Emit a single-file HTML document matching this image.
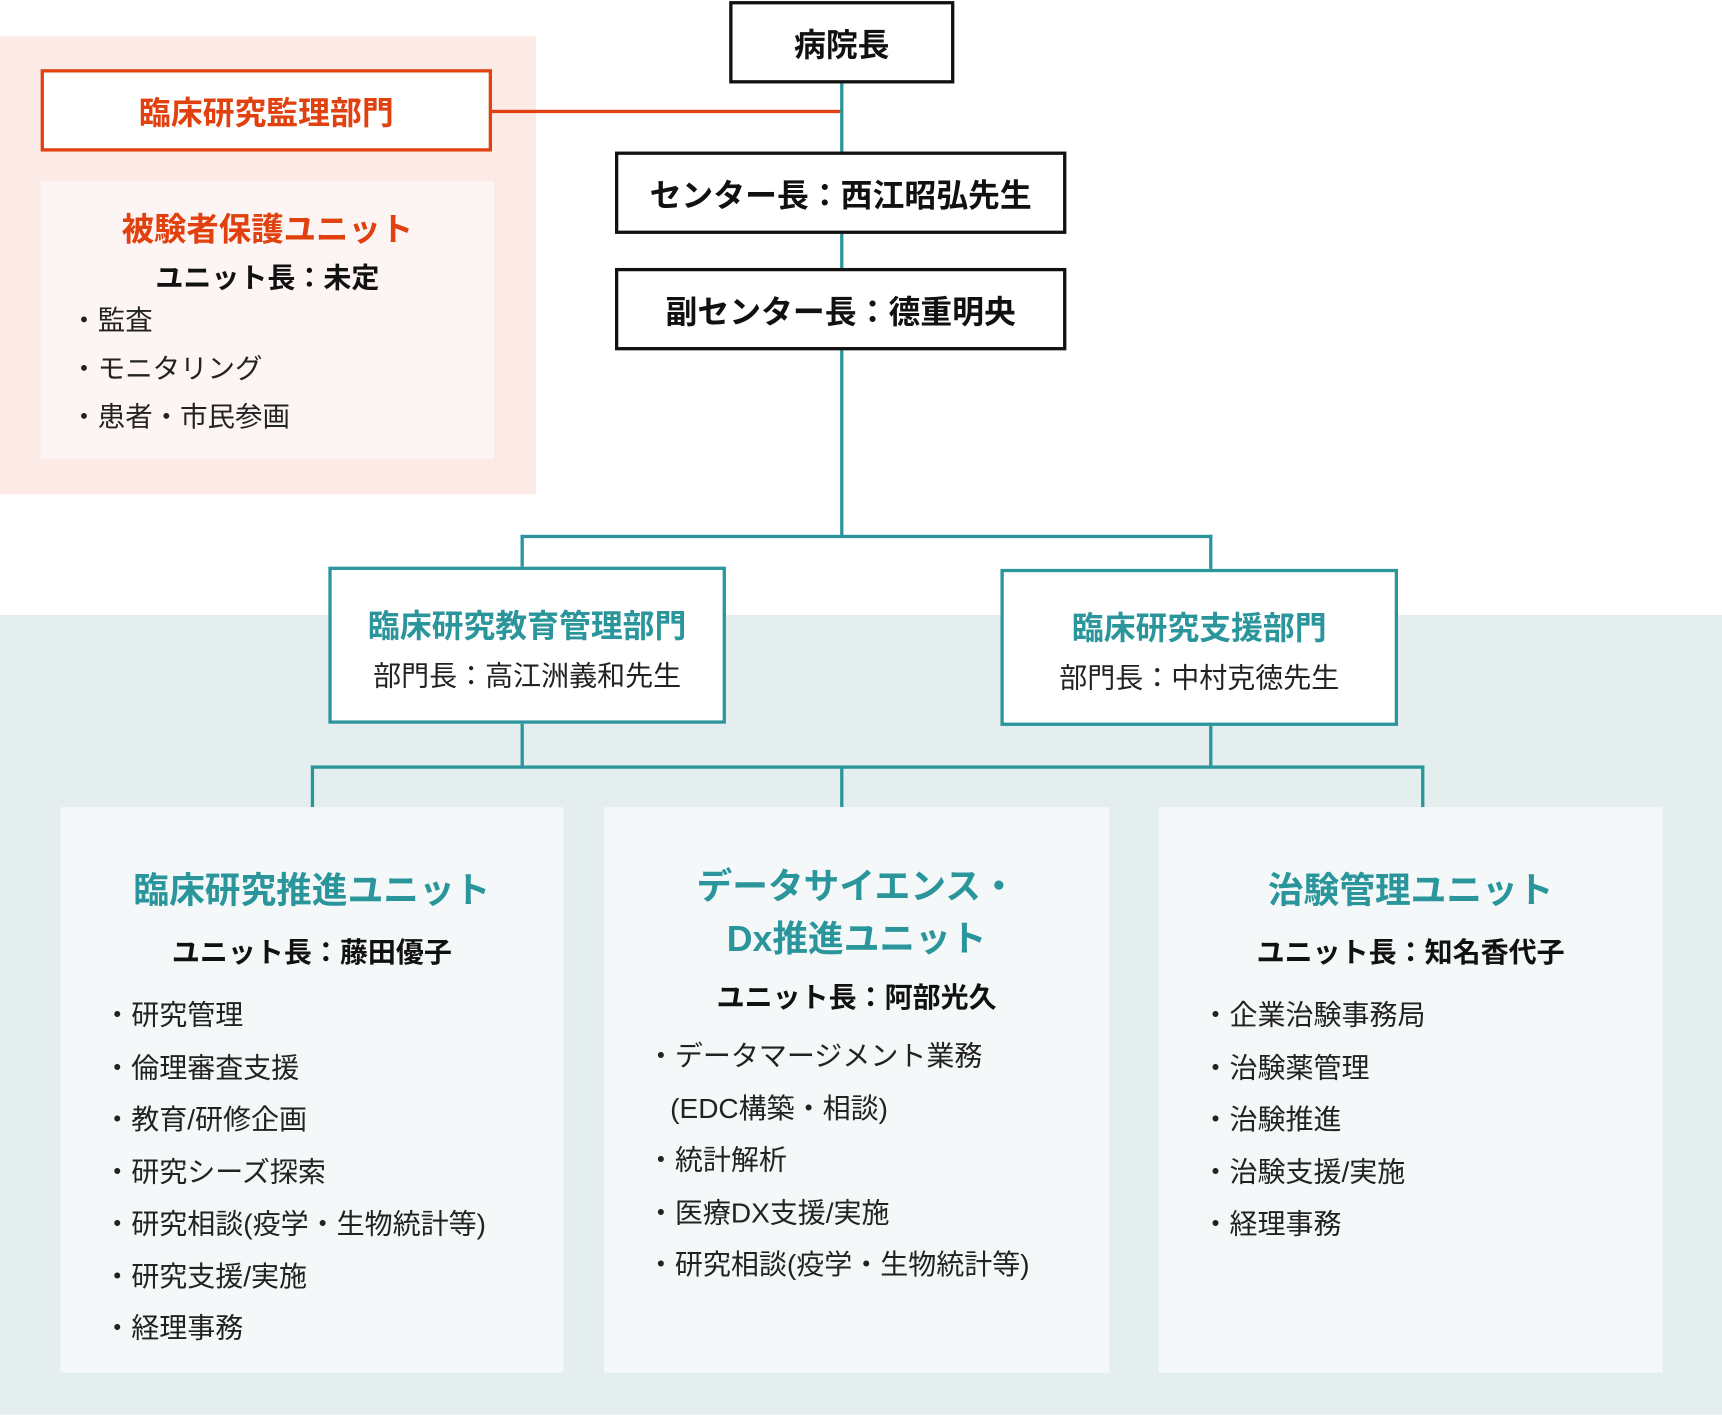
<!DOCTYPE html>
<html><head><meta charset="utf-8">
<style>
html,body{margin:0;padding:0;background:#fff;}
body{width:1722px;height:1414px;overflow:hidden;font-family:"Liberation Sans","Noto Sans CJK JP",sans-serif;}
#w{position:relative;width:1568px;height:1288px;transform:scale(1.09821);transform-origin:0 0;}
.a{position:absolute;box-sizing:border-box;}
.c{text-align:center;}
.bk{border:3px solid #111;background:#fff;font-weight:bold;font-size:29px;color:#111;display:flex;align-items:center;justify-content:center;}
.ln{position:absolute;background:#2a969c;}
.tt{color:#2a969c;font-weight:bold;font-size:32.5px;}
.li{font-size:25.5px;color:#222;line-height:47.5px;}
</style></head><body><div id="w">
<div class="a" style="left:0;top:33px;width:488px;height:417px;background:#fbeae6"></div>
<div class="a" style="left:0;top:560px;width:1568px;height:728px;background:#e4eeef"></div>

<div class="a" style="left:37px;top:63px;width:411px;height:75px;border:3px solid #e1400f;background:#fff;color:#e1400f;font-weight:bold;font-size:29px;display:flex;align-items:center;justify-content:center">臨床研究監理部門</div>
<div class="a" style="left:37px;top:165px;width:413px;height:253px;background:#fdf5f3"></div>
<div class="a c" style="left:37px;top:186px;width:413px;color:#e1400f;font-weight:bold;font-size:29.5px">被験者保護ユニット</div>
<div class="a c" style="left:37px;top:233px;width:413px;font-weight:bold;font-size:25.5px;color:#111">ユニット長：未定</div>
<div class="a li" style="left:64px;top:270px;line-height:44px;font-size:25px">・監査<br>・モニタリング<br>・患者・市民参画</div>

<div class="a" style="left:448px;top:100px;width:318px;height:3px;background:#e1400f"></div>
<div class="ln" style="left:765px;top:76px;width:3px;height:413px"></div>
<div class="a bk" style="left:664px;top:1px;width:205px;height:75px">病院長</div>
<div class="a bk" style="left:560px;top:138px;width:411px;height:75px">センター長：西江昭弘先生</div>
<div class="a bk" style="left:560px;top:244px;width:411px;height:75px">副センター長：德重明央</div>

<div class="ln" style="left:474px;top:487px;width:630px;height:3px"></div>
<div class="ln" style="left:474px;top:487px;width:3px;height:30px"></div>
<div class="ln" style="left:1101px;top:487px;width:3px;height:32px"></div>
<div class="ln" style="left:474px;top:657px;width:3px;height:42px"></div>
<div class="ln" style="left:1101px;top:659px;width:3px;height:40px"></div>
<div class="ln" style="left:283px;top:697px;width:1014px;height:3px"></div>
<div class="ln" style="left:283px;top:697px;width:3px;height:38px"></div>
<div class="ln" style="left:765px;top:697px;width:3px;height:38px"></div>
<div class="ln" style="left:1294px;top:697px;width:3px;height:38px"></div>

<div class="a c" style="left:299px;top:516px;width:362px;height:143px;border:3px solid #2a969c;background:#fff">
<div style="margin-top:28px;color:#2a969c;font-weight:bold;font-size:29px">臨床研究教育管理部門</div>
<div style="margin-top:6px;font-size:25.5px;color:#222">部門長：高江洲義和先生</div></div>
<div class="a c" style="left:911px;top:518px;width:362px;height:143px;border:3px solid #2a969c;background:#fff">
<div style="margin-top:28px;color:#2a969c;font-weight:bold;font-size:29px">臨床研究支援部門</div>
<div style="margin-top:6px;font-size:25.5px;color:#222">部門長：中村克徳先生</div></div>

<div class="a" style="left:55px;top:735px;width:458px;height:515px;background:#f4f8f9"></div>
<div class="a" style="left:550px;top:735px;width:460px;height:515px;background:#f4f8f9"></div>
<div class="a" style="left:1055px;top:735px;width:459px;height:515px;background:#f4f8f9"></div>

<div class="a c tt" style="left:55px;top:785px;width:458px">臨床研究推進ユニット</div>
<div class="a c" style="left:55px;top:847px;width:458px;font-weight:bold;font-size:25.5px;color:#111">ユニット長：藤田優子</div>
<div class="a li" style="left:94px;top:902px">・研究管理<br>・倫理審査支援<br>・教育/研修企画<br>・研究シーズ探索<br>・研究相談(疫学・生物統計等)<br>・研究支援/実施<br>・経理事務</div>

<div class="a c tt" style="left:550px;top:783px;width:460px;line-height:48px">データサイエンス・<br>Dx推進ユニット</div>
<div class="a c" style="left:550px;top:888px;width:460px;font-weight:bold;font-size:25.5px;color:#111">ユニット長：阿部光久</div>
<div class="a li" style="left:589px;top:939px">・データマージメント業務<br>&nbsp;&nbsp;&nbsp;(EDC構築・相談)<br>・統計解析<br>・医療DX支援/実施<br>・研究相談(疫学・生物統計等)</div>

<div class="a c tt" style="left:1055px;top:785px;width:459px">治験管理ユニット</div>
<div class="a c" style="left:1055px;top:847px;width:459px;font-weight:bold;font-size:25.5px;color:#111">ユニット長：知名香代子</div>
<div class="a li" style="left:1094px;top:902px">・企業治験事務局<br>・治験薬管理<br>・治験推進<br>・治験支援/実施<br>・経理事務</div>
</div></body></html>
